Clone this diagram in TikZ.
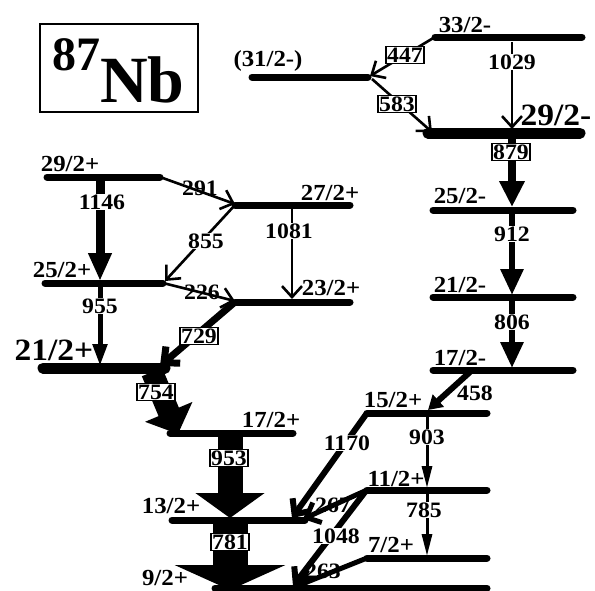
\documentclass[tikz,border=0pt]{standalone}
\usepackage{fontspec}
\setmainfont{Liberation Serif}
\newfontfamily\lblfont[FakeStretch=1.08]{Liberation Serif}
\usetikzlibrary{arrows.meta}

\tikzset{
    lvl/.style={line width=7pt, line cap=round},
    thicklvl/.style={line width=11pt, line cap=round},
    spin/.style={font=\lblfont\bfseries\fontsize{23}{23}\selectfont, inner sep=0pt},
    bigspin/.style={font=\lblfont\bfseries\fontsize{31}{31}\selectfont, inner sep=0pt},
    energy/.style={font=\lblfont\bfseries\fontsize{22}{22}\selectfont, fill=white, inner sep=1pt},
    boxed/.style={energy, draw, line width=1.2pt, inner sep=1.2pt},
    weak/.style={line width=2.6pt, -{Straight Barb[length=11pt,width=20pt]}},
    barb/.style={line width=#1pt, -{Straight Barb[length=12pt,width=22pt]}},
    strong/.style args={#1/#2/#3}{line width=#1pt, -{Triangle[width=#2pt,length=#3pt]}}
}

\begin{document}
\begin{tikzpicture}[x=1pt, y=-1pt]
    \useasboundingbox (0,0) rectangle (595,590);

    % levels: name / left / right / height
    \foreach \n/\xa/\xb/\y in {s33/435/582/37, s31/252/368/77, s25m/433/573/210,
        s21m/433/573/297, s17m/433/573/370, s29p/47/160/177, s27p/235/350/205,
        s25p/45/163/283, s23p/235/350/302, s17p/170/293/433, s15p/367/487/413,
        s13p/172/305/520, s11p/367/487/490, s7p/367/487/558, s9p/215/487/588}
    {
        \coordinate (\n-l) at (\xa,\y);
        \coordinate (\n-r) at (\xb,\y);
        \draw[lvl] (\n-l) -- (\n-r);
    }
    \coordinate (s29m-l) at (428,133);
    \coordinate (s29m-r) at (580,133);
    \draw[thicklvl] (s29m-l) -- (s29m-r);
    \coordinate (s21p-l) at (43,368);
    \coordinate (s21p-r) at (165,368);
    \draw[thicklvl] (s21p-l) -- (s21p-r);

    % transition end points
    \coordinate (g447) at (370,76);
    \coordinate (g583a) at (372,79);
    \coordinate (g583b) at (432,132);
    \coordinate (g1029a) at (512,42);
    \coordinate (g1029b) at (512,129);
    \coordinate (g879a) at (512,137);
    \coordinate (g879b) at (512,207);
    \coordinate (g912a) at (512,213);
    \coordinate (g912b) at (512,295);
    \coordinate (g806a) at (512,300);
    \coordinate (g806b) at (512,368);
    \coordinate (g458a) at (470,372);
    \coordinate (g458b) at (428,410);
    \coordinate (g903a) at (427,416);
    \coordinate (g903b) at (427,488);
    \coordinate (g785a) at (427,493);
    \coordinate (g785b) at (427,556);
    \coordinate (g1170) at (292,518);
    \coordinate (g267) at (303,519);
    \coordinate (g1048a) at (365,492);
    \coordinate (g1048b) at (293,586);
    \coordinate (g263) at (297,586);
    \coordinate (g953a) at (230,436);
    \coordinate (g953b) at (230,518);
    \coordinate (g781a) at (230,523);
    \coordinate (g781b) at (230,590);
    \coordinate (g754a) at (152,372);
    \coordinate (g754b) at (178,434);
    \coordinate (g729) at (160,366);
    \coordinate (g1146a) at (100,180);
    \coordinate (g1146b) at (100,281);
    \coordinate (g955a) at (100,286);
    \coordinate (g955b) at (100,366);
    \coordinate (g291) at (235,204);
    \coordinate (g855) at (165,281);
    \coordinate (g226) at (235,301);
    \coordinate (g1081a) at (292,208);
    \coordinate (g1081b) at (292,299);

    % transitions
    \draw[weak] (s33-l) -- (g447);
    \draw[weak] (g583a) -- (g583b);
    \draw[weak] (g1029a) -- (g1029b);
    \draw[strong=8/24/26] (g879a) -- (g879b);
    \draw[strong=6/22/26] (g912a) -- (g912b);
    \draw[strong=6/22/26] (g806a) -- (g806b);
    \draw[strong=6/16/14] (g458a) -- (g458b);
    \draw[strong=3/10/22] (g903a) -- (g903b);
    \draw[strong=3/10/22] (g785a) -- (g785b);
    \draw[barb=6] (s15p-l) -- (g1170);
    \draw[barb=5] (s11p-l) -- (g267);
    \draw[barb=6] (g1048a) -- (g1048b);
    \draw[barb=5] (s7p-l) -- (g263);
    \draw[strong=25/68/25] (g953a) -- (g953b);
    \draw[strong=35/110/25] (g781a) -- (g781b);
    \draw[strong=22/50/24] (g754a) -- (g754b);
    \draw[barb=7] (s23p-l) -- (g729);
    \draw[strong=9/22/28] (g1146a) -- (g1146b);
    \draw[strong=5/14/22] (g955a) -- (g955b);
    \draw[weak] (s29p-r) -- (g291);
    \draw[weak] (s27p-l) -- (g855);
    \draw[weak] (s25p-r) -- (g226);
    \draw[weak] (g1081a) -- (g1081b);

    % gamma energies
    \node[boxed] (e447) at (405,55) {447};
    \node[boxed] (e583) at (397,104) {583};
    \node[energy] (e1029) at (512,62) {1029};
    \node[boxed] (e879) at (511,152) {879};
    \node[energy] (e912) at (512,234) {912};
    \node[energy] (e806) at (512,322) {806};
    \node[energy, fill=none] (e458) at (475,393) {458};
    \node[energy] (e903) at (427,437) {903};
    \node[energy] (e785) at (424,510) {785};
    \node[energy] (e1170) at (347,443) {1170};
    \node[energy, fill=none] (e267) at (333,505) {267};
    \node[energy] (e1048) at (336,536) {1048};
    \node[energy, fill=none] (e263) at (323,571) {263};
    \node[boxed] (e953) at (229,458) {953};
    \node[boxed] (e781) at (230,542) {781};
    \node[boxed] (e754) at (156,392) {754};
    \node[boxed] (e729) at (199,336) {729};
    \node[energy] (e1146) at (102,202) {1146};
    \node[energy] (e955) at (100,306) {955};
    \node[energy, fill=none] (e291) at (200,188) {291};
    \node[energy] (e855) at (206,241) {855};
    \node[energy, fill=none] (e226) at (202,292) {226};
    \node[energy] (e1081) at (289,231) {1081};

    % spins
    \node[spin] (j33) at (465,25) {33/2-};
    \node[spin] (j31) at (268,61) {(31/2-)};
    \node[bigspin] (j29m) at (556,115) {29/2-};
    \node[spin] (j25m) at (460,196) {25/2-};
    \node[spin] (j21m) at (460,285) {21/2-};
    \node[spin] (j17m) at (460,358) {17/2-};
    \node[spin] (j29p) at (70,164) {29/2+};
    \node[spin] (j27p) at (330,193) {27/2+};
    \node[spin] (j25p) at (62,270) {25/2+};
    \node[spin] (j23p) at (331,288) {23/2+};
    \node[bigspin] (j21p) at (54,350) {21/2+};
    \node[spin] (j17p) at (271,420) {17/2+};
    \node[spin] (j15p) at (393,400) {15/2+};
    \node[spin] (j13p) at (171,506) {13/2+};
    \node[spin] (j11p) at (396,479) {11/2+};
    \node[spin] (j7p) at (391,545) {7/2+};
    \node[spin] (j9p) at (165,578) {9/2+};

    % nucleus
    \draw[line width=2.5pt] (40,24) rectangle (198,112);
    \node[font=\bfseries\fontsize{48}{48}\selectfont, inner sep=0pt, anchor=base west] (mass) at (52,70) {87};
    \node[font=\bfseries\fontsize{66}{66}\selectfont, inner sep=0pt, anchor=base west] (elem) at (100,102) {Nb};
\end{tikzpicture}
\end{document}
